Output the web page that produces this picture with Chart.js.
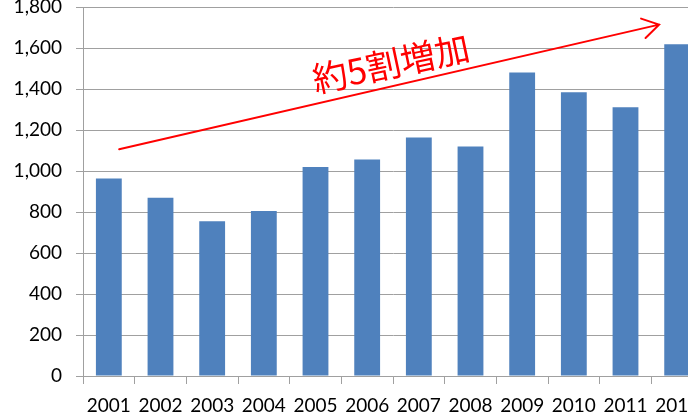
<!DOCTYPE html>
<html>
<head>
<meta charset="utf-8">
<script src="https://cdn.jsdelivr.net/npm/chart.js@4/dist/chart.umd.min.js"></script>
<style>
  html, body { margin: 0; padding: 0; background: #fff; overflow: hidden; }
  #wrap { width: 705px; height: 415px; }
</style>
</head>
<body>
<div id="wrap"><canvas id="barChart"></canvas></div>
<script>
// data
const years = ['2001', '2002', '2003', '2004', '2005', '2006', '2007', '2008', '2009', '2010', '2011', '2012'];
const counts = [963, 870, 755, 805, 1020, 1056, 1163, 1119, 1480, 1384, 1311, 1618];
const yTicks = [0, 200, 400, 600, 800, 1000, 1200, 1400, 1600, 1800];

// red trend arrow and its label, in data units (category index, value)
const arrowFrom = [0.2, 1106];
const arrowTo = [10.65, 1714];
const noteText = '約5割増加';
const notePos = [5.46, 1525];

document.addEventListener("DOMContentLoaded", () => {
    const ctx = document.getElementById("barChart").getContext("2d");
    Chart.defaults.font.family = 'Lato, "Noto Sans", sans-serif';
    Chart.defaults.font.size = 19;
    Chart.defaults.color = '#000';

    // draws the arrow and the rotated note on top of the bars
    const arrowPlugin = {
        id: 'trendArrow',
        afterDatasetsDraw(chart) {
            const x = chart.scales.x, y = chart.scales.y;
            const toPx = p => [x.getPixelForValue(p[0]), y.getPixelForValue(p[1])];
            const [x1, y1] = toPx(arrowFrom);
            const [x2, y2] = toPx(arrowTo);
            const c = chart.ctx;
            c.save();
            c.strokeStyle = '#ff0000';
            c.lineWidth = 2;
            c.lineCap = 'round';
            c.beginPath();
            c.moveTo(x1, y1);
            c.lineTo(x2, y2);
            const ang = Math.atan2(y2 - y1, x2 - x1);
            const head = 19;
            c.moveTo(x2 - head * Math.cos(ang - 0.55), y2 - head * Math.sin(ang - 0.55));
            c.lineTo(x2, y2);
            c.lineTo(x2 - head * Math.cos(ang + 0.55), y2 - head * Math.sin(ang + 0.55));
            c.stroke();

            const [tx, ty] = toPx(notePos);
            c.translate(tx, ty);
            c.rotate(-12 * Math.PI / 180);
            c.fillStyle = '#ff0000';
            c.font = '35px "Noto Sans CJK JP", sans-serif';
            c.textAlign = 'center';
            c.textBaseline = 'middle';
            c.fillText(noteText, 0, 0);
            c.restore();
        }
    };

    new Chart(ctx, {
        type: 'bar',
        data: {
            labels: years,
            datasets: [{
                data: counts,
                backgroundColor: '#4f81bd',
                borderWidth: 0,
                categoryPercentage: 1.0,
                barPercentage: 0.5
            }]
        },
        options: {
            responsive: true,
            maintainAspectRatio: false,
            animation: false,
            layout: { padding: { top: 7, right: 2, left: 0, bottom: 0 } },
            plugins: {
                legend: { display: false },
                tooltip: { enabled: false }
            },
            scales: {
                x: {
                    grid: {
                        offset: true,
                        drawOnChartArea: false,
                        drawTicks: true,
                        tickLength: 8,
                        color: '#a0a0a0'
                    },
                    border: { color: '#a0a0a0' },
                    ticks: { padding: 10, maxRotation: 0, autoSkip: false },
                    afterFit: scale => {
                        scale.height = 39;
                        scale.paddingLeft = 0;
                        scale.paddingRight = 0;
                    }
                },
                y: {
                    min: 0,
                    max: 1800,
                    afterBuildTicks: scale => { scale.ticks = yTicks.map(v => ({ value: v })); },
                    grid: { color: '#a0a0a0', tickLength: 7 },
                    border: { color: '#a0a0a0' },
                    ticks: {
                        padding: 14,
                        callback: v => v.toLocaleString('en-US')
                    },
                    afterFit: scale => {
                        scale.width = 83;
                        scale.paddingTop = 0;
                        scale.paddingBottom = 0;
                    }
                }
            }
        },
        plugins: [arrowPlugin]
    });
});
</script>
</body>
</html>
